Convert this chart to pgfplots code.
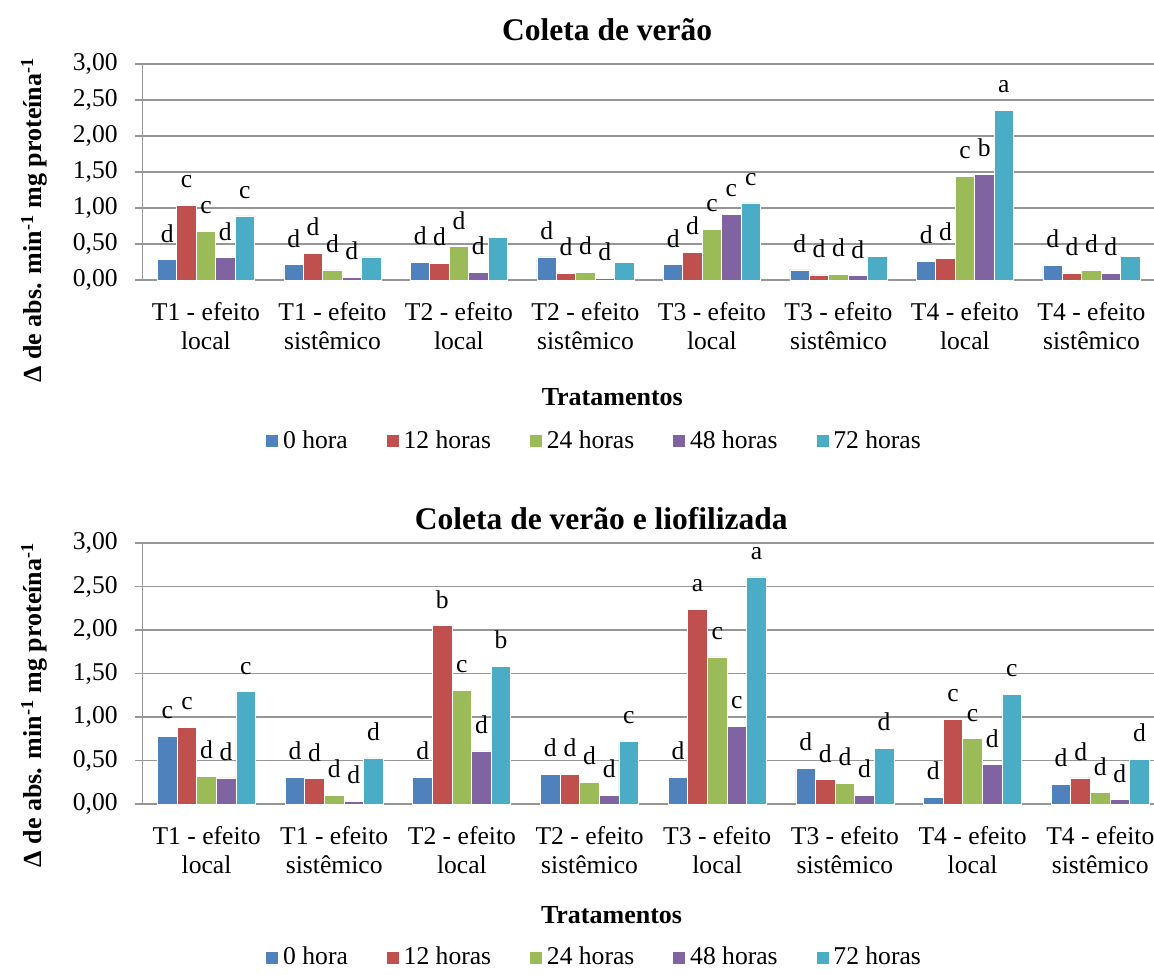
\documentclass[border=0pt]{standalone}
\usepackage{fontspec}
\setmainfont{Liberation Serif}
\usepackage{pgfplots}
\pgfplotsset{compat=1.18}
\definecolor{c0}{HTML}{4F81BD}
\definecolor{c1}{HTML}{C0504D}
\definecolor{c2}{HTML}{9BBB59}
\definecolor{c3}{HTML}{8064A2}
\definecolor{c4}{HTML}{4BACC6}
\definecolor{gridc}{HTML}{969696}
\newcommand{\lblfont}{\fontsize{12.8}{14.5}\selectfont}
\pgfplotsset{
  mybars/.style={
    scale only axis,
    ybar=0pt,
    ymin=0, ymax=3,
    xmin=-0.5, xmax=7.5,
    ytick={0,0.5,1,1.5,2,2.5,3},
    xtick={0,...,7},
    xticklabels={{T1 - efeito\\local},{T1 - efeito\\sistêmico},{T2 - efeito\\local},{T2 - efeito\\sistêmico},{T3 - efeito\\local},{T3 - efeito\\sistêmico},{T4 - efeito\\local},{T4 - efeito\\sistêmico}},
    xticklabel style={align=center, yshift=-3.5pt},
    tick label style={font=\lblfont},
    axis lines*=left,
    axis line style={gridc, line width=0.75pt},
    ymajorgrids,
    grid style={gridc, line width=0.75pt},
    major tick length=4pt,
    tick align=outside,
    x tick style={draw=none},
    y tick style={gridc, line width=0.75pt},
    yticklabel style={xshift=-5pt, /pgf/number format/.cd, fixed, fixed zerofill, precision=2, use comma, assume math mode=true},
    nodes near coords,
    point meta=explicit symbolic,
    every node near coord/.append style={anchor=south, inner sep=0pt, yshift=8.5pt, font=\lblfont, text=black},
    every axis plot/.append style={draw=white, line width=0.4pt},
    xlabel={Tratamentos},
    xlabel style={font=\bfseries\fontsize{13}{15}\selectfont, anchor=center},
    ylabel={Δ de abs. min\textsuperscript{-1} mg proteína\textsuperscript{-1}},
    ylabel style={font=\bfseries\fontsize{13}{15}\selectfont, anchor=center},
    title style={font=\bfseries\fontsize{15.75}{18}\selectfont, anchor=center},
    legend columns=5,
    legend image code/.code={\fill[##1] (0pt,-3.25pt) rectangle (6.5pt,3.25pt);},
    legend style={draw=none, fill=none, anchor=center, font=\lblfont, inner sep=1pt,
      /tikz/every even column/.append style={column sep=17pt}},
  }
}
\begin{document}
\begin{tikzpicture}
\useasboundingbox (0,0) rectangle (577pt,-487pt);
% ---------------- top ----------------
\begin{axis}[mybars,
  at={(71.35pt,-140pt)}, anchor=south west,
  width=506pt, height=108pt, bar width=9.7pt,
  title={Coleta de verão},
  title style={at={(axis description cs:0.459,1.102)}},
  xlabel style={at={(axis description cs:0.464,-0.542)}},
  ylabel style={at={(axis description cs:-0.107,0.278)}},
  legend style={at={(axis description cs:0.447,-0.745)}},
]
\addplot[fill=c0] coordinates {(0,0.28)[d] (1,0.21)[d] (2,0.25)[d] (3,0.32)[d] (4,0.21)[d] (5,0.14)[d] (6,0.26)[d] (7,0.20)[d]};
\addplot[fill=c1] coordinates {(0,1.04)[c] (1,0.37)[d] (2,0.23)[d] (3,0.09)[d] (4,0.38)[d] (5,0.07)[d] (6,0.30)[d] (7,0.09)[d]};
\addplot[fill=c2] coordinates {(0,0.68)[c] (1,0.14)[d] (2,0.46)[d] (3,0.11)[d] (4,0.70)[c] (5,0.08)[d] (6,1.44)[c] (7,0.13)[d]};
\addplot[fill=c3] coordinates {(0,0.31)[d] (1,0.04)[d] (2,0.11)[d] (3,0.02)[d] (4,0.91)[c] (5,0.06)[d] (6,1.47)[b] (7,0.09)[d]};
\addplot[fill=c4] coordinates {(0,0.89)[c] (1,0.32)[] (2,0.59)[] (3,0.24)[] (4,1.07)[c] (5,0.33)[] (6,2.36)[a] (7,0.33)[]};
\legend{0 hora,12 horas,24 horas,48 horas,72 horas}
\end{axis}
% ---------------- bottom ----------------
\begin{axis}[mybars,
  at={(71.35pt,-402pt)}, anchor=south west,
  width=510.7pt, height=130.5pt, bar width=9.8pt,
  title={Coleta de verão e liofilizada},
  title style={at={(axis description cs:0.449,1.046)}},
  xlabel style={at={(axis description cs:0.459,-0.425)}},
  ylabel style={at={(axis description cs:-0.106,0.38)}},
  legend style={at={(axis description cs:0.443,-0.588)}},
]
\addplot[fill=c0] coordinates {(0,0.78)[c] (1,0.31)[d] (2,0.31)[d] (3,0.34)[d] (4,0.31)[d] (5,0.41)[d] (6,0.08)[d] (7,0.23)[d]};
\addplot[fill=c1] coordinates {(0,0.88)[c] (1,0.29)[d] (2,2.05)[b] (3,0.34)[d] (4,2.24)[a] (5,0.28)[d] (6,0.97)[c] (7,0.30)[d]};
\addplot[fill=c2] coordinates {(0,0.32)[d] (1,0.10)[d] (2,1.31)[c] (3,0.25)[d] (4,1.69)[c] (5,0.24)[d] (6,0.75)[c] (7,0.13)[d]};
\addplot[fill=c3] coordinates {(0,0.30)[d] (1,0.03)[d] (2,0.61)[d] (3,0.10)[d] (4,0.89)[c] (5,0.10)[d] (6,0.45)[d] (7,0.05)[d]};
\addplot[fill=c4] coordinates {(0,1.29)[c] (1,0.53)[d] (2,1.58)[b] (3,0.72)[c] (4,2.61)[a] (5,0.64)[d] (6,1.26)[c] (7,0.51)[d]};
\legend{0 hora,12 horas,24 horas,48 horas,72 horas}
\end{axis}
\end{tikzpicture}
\end{document}
